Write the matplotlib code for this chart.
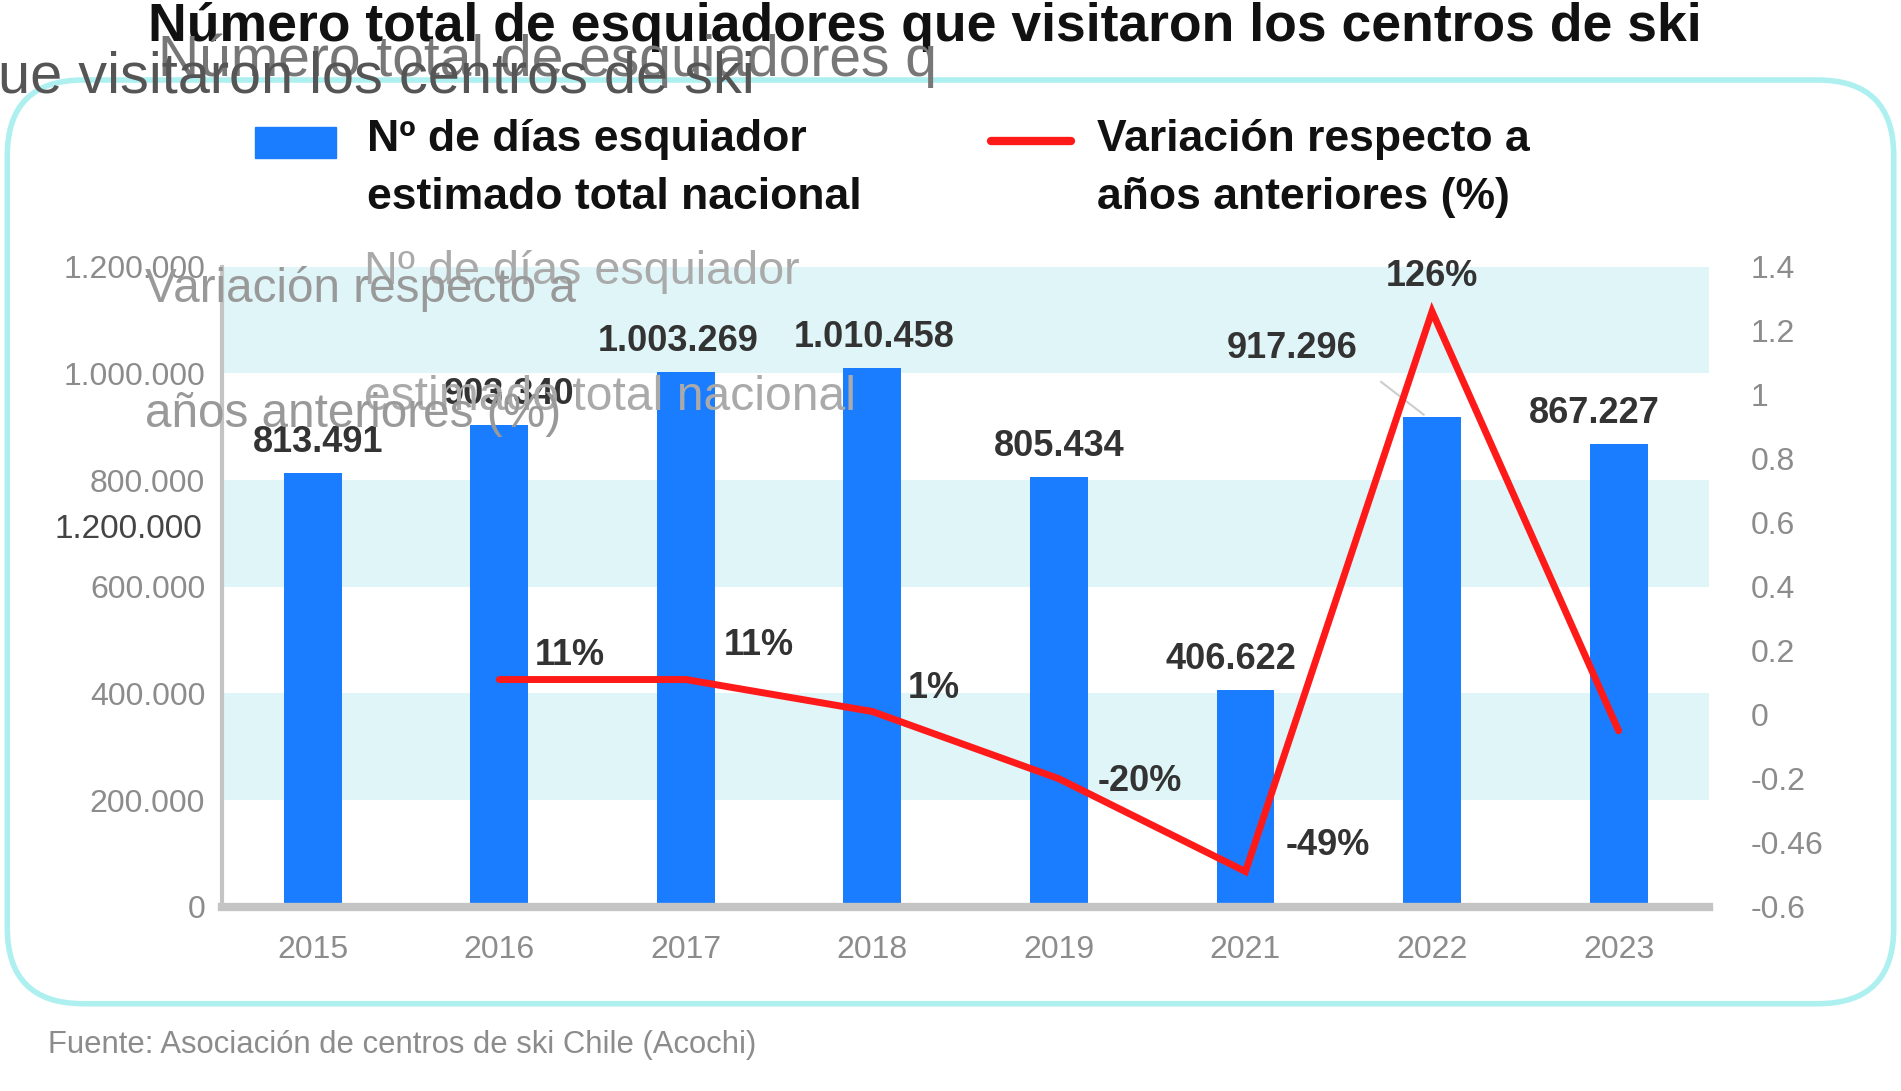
import matplotlib
matplotlib.use("Agg")
import matplotlib.pyplot as plt
import matplotlib.patches as patches
from matplotlib.lines import Line2D

plt.rcParams['font.family'] = ['Liberation Sans', 'DejaVu Sans']

years = ["2015", "2016", "2017", "2018", "2019", "2021", "2022", "2023"]
ski_days = [813491, 903340, 1003269, 1010458, 805434, 406622, 917296, 867227]
bar_labels = ["813.491", "903.340", "1.003.269", "1.010.458", "805.434", "406.622", "917.296", "867.227"]
variation = [None, 0.11, 0.11, 0.01, -0.20, -0.49, 1.26, -0.05]
var_labels = [None, "11%", "11%", "1%", "-20%", "-49%", "126%", None]
left_ticks = [0, 200000, 400000, 600000, 800000, 1000000, 1200000]
left_tick_labels = ["0", "200.000", "400.000", "600.000", "800.000", "1.000.000", "1.200.000"]
right_ticks = [-0.6, -0.4, -0.2, 0, 0.2, 0.4, 0.6, 0.8, 1.0, 1.2, 1.4]
right_tick_labels = ["-0.6", "-0.46", "-0.2", "0", "0.2", "0.4", "0.6", "0.8", "1", "1.2", "1.4"]

BLUE = '#1a7cff'
RED = '#ff1a1a'
BAND = '#e0f5f8'
GRAY = '#8c8c8c'
LABEL = '#333333'

W, H = 1568.0, 900.0  # coordinates measured on the preview


def fx(x):
    return x / W


def fy(y):
    return 1 - y / H


fig = plt.figure(figsize=(19.01, 10.91), dpi=100)

# rounded frame
frame = patches.FancyBboxPatch((fx(6), fy(828)), fx(1556), fy(66) - fy(828),
                               boxstyle="round,pad=0,rounding_size=0.04",
                               transform=fig.transFigure, facecolor='none',
                               edgecolor='#aef0f0', linewidth=4, mutation_aspect=1.74,
                               zorder=-1)
fig.add_artist(frame)

ax = fig.add_axes([fx(183), fy(748), fx(1410) - fx(183), fy(220) - fy(748)])
ax.set_facecolor('none')
x = list(range(len(years)))

# background bands
for lo in [200000, 600000, 1000000]:
    ax.axhspan(lo, lo + 200000, color=BAND, zorder=0, lw=0)

ax.bar(x, ski_days, width=0.31, color=BLUE, zorder=2)
ax.set_xlim(-0.487, len(years) - 1 + 0.487)
ax.set_ylim(0, 1200000)
ax.set_yticks(left_ticks)
ax.set_yticklabels(left_tick_labels)
ax.set_xticks(x)
ax.set_xticklabels(years)
ax.tick_params(axis='both', length=0, colors=GRAY, labelsize=23)
ax.tick_params(axis='x', pad=20)
ax.tick_params(axis='y', pad=12)
for s in ['top', 'right']:
    ax.spines[s].set_visible(False)
ax.spines['left'].set_color('#c4c4c4')
ax.spines['left'].set_linewidth(3)
ax.spines['bottom'].set_color('#c4c4c4')
ax.spines['bottom'].set_linewidth(6)

ax2 = ax.twinx()
ax2.set_ylim(-0.6, 1.4)
ax2.set_yticks(right_ticks)
ax2.set_yticklabels(right_tick_labels)
ax2.tick_params(axis='y', length=0, colors=GRAY, labelsize=23, pad=30)
for s in ax2.spines.values():
    s.set_visible(False)
lx = [i for i, v in zip(x, variation) if v is not None]
ly = [v for v in variation if v is not None]
ax2.plot(lx, ly, color=RED, lw=5, zorder=3, solid_capstyle='round', solid_joinstyle='miter')

# bar value labels
bar_offsets = {0: (0.03, 57000), 1: (0.05, 57000), 2: (-0.04, 57000), 3: (0.01, 57000),
               4: (0.0, 57000), 5: (-0.08, 57000), 6: (-0.75, 130000), 7: (-0.13, 57000)}
for i, (v, lab) in enumerate(zip(ski_days, bar_labels)):
    dx, dy = bar_offsets[i]
    ax.text(i + dx, v + dy, lab, ha='center', va='center', fontsize=26,
            fontweight='bold', color=LABEL, zorder=5)
ax.plot([5.727, 5.955], [984000, 922700], color='#cccccc', lw=1.5, zorder=4)

# variation labels
var_offsets = {1: (0.377, 0.075), 2: (0.39, 0.106), 3: (0.33, 0.072), 4: (0.435, -0.008),
               5: (0.44, 0.08), 6: (0.0, 0.11)}
for i, (v, lab) in enumerate(zip(variation, var_labels)):
    if lab is None:
        continue
    dx, dy = var_offsets[i]
    ax2.text(i + dx, v + dy, lab, ha='center', va='center', fontsize=26,
             fontweight='bold', color=LABEL, zorder=5)

# title
fig.text(fx(122), fy(22), "Número total de esquiadores que visitaron los centros de ski",
         ha='left', va='center', fontsize=38.5, fontweight='bold', color='#111111')

# legend
fig.add_artist(patches.Rectangle((fx(210), fy(130)), fx(67), fy(105) - fy(130),
                                 transform=fig.transFigure, color=BLUE))
fig.text(fx(303), fy(115), "Nº de días esquiador", ha='left', va='center',
         fontsize=32, fontweight='bold', color='#111111')
fig.text(fx(303), fy(163), "estimado total nacional", ha='left', va='center',
         fontsize=32, fontweight='bold', color='#111111')
fig.add_artist(Line2D([fx(817), fx(883)], [fy(116), fy(116)], transform=fig.transFigure,
                      color=RED, lw=6, solid_capstyle='round'))
fig.text(fx(905), fy(115), "Variación respecto a", ha='left', va='center',
         fontsize=32, fontweight='bold', color='#111111')
fig.text(fx(905), fy(163), "años anteriores (%)", ha='left', va='center',
         fontsize=32, fontweight='bold', color='#111111')

# faint doubled copies of the texts, as in the source image
ghosts = [
    ("Número total de esquiadores q", 130, 50, 41, '#777777'),
    ("ue visitaron los centros de ski", -2, 64, 41.5, '#555555'),
    ("Nº de días esquiador", 300, 224, 33.7, '#aaaaaa'),
    ("Variación respecto a", 120, 238, 34.3, '#999999'),
    ("estimado total nacional", 300, 328, 34.6, '#aaaaaa'),
    ("años anteriores (%)", 120, 342, 34.3, '#999999'),
    ("1.200.000", 45, 437, 24, '#444444'),
]
for txt, gx, gy, size, col in ghosts:
    fig.text(fx(gx), fy(gy), txt, ha='left', va='center', fontsize=size, color=col, zorder=6)

# source
fig.text(fx(40), fy(862), "Fuente: Asociación de centros de ski Chile (Acochi)", ha='left',
         va='center', fontsize=22.3, color=GRAY)

fig.savefig("out.png", dpi=100)
